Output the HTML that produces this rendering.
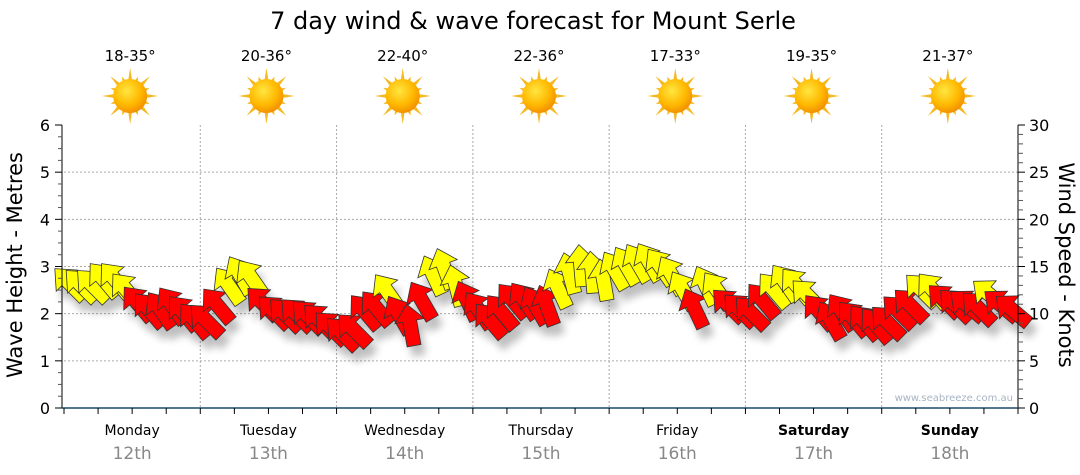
<!DOCTYPE html>
<html><head><meta charset="utf-8">
<style>
body{margin:0;background:#fff;}
svg{display:block;font-family:"DejaVu Sans","Liberation Sans",sans-serif;}
</style></head>
<body>
<svg id="c" width="1080" height="475">
<defs>
<radialGradient id="sg" cx="0.4" cy="0.35" r="0.7">
<stop offset="0" stop-color="#ffe640"/><stop offset="0.6" stop-color="#ffb800"/><stop offset="1" stop-color="#f08a00"/>
</radialGradient>
<filter id="sh" x="-50%" y="-50%" width="200%" height="200%"><feGaussianBlur stdDeviation="4"/></filter>
</defs>
<text x="533" y="29" font-size="24" text-anchor="middle" fill="#000">7 day wind &amp; wave forecast for Mount Serle</text>
<g id="grid"></g>
<g id="shadows" filter="url(#sh)" opacity="0.25"></g>
<g id="arrows"></g>
<g id="axes"></g>
<text transform="translate(22,265) rotate(-90)" font-size="21" text-anchor="middle">Wave Height - Metres</text>
<text transform="translate(1059,265) rotate(90)" font-size="21" text-anchor="middle">Wind Speed - Knots</text>
<text x="1013" y="401" font-size="10" fill="#a8b4c4" text-anchor="end">www.seabreeze.com.au</text>
</svg>
<script>
const days=["Monday","Tuesday","Wednesday","Thursday","Friday","Saturday","Sunday"];
const dates=["12th","13th","14th","15th","16th","17th","18th"];
const temps=["18-35°","20-36°","22-40°","22-36°","17-33°","19-35°","21-37°"];
const leftTicks=[0,1,2,3,4,5,6];
const rightTicks=[0,5,10,15,20,25,30];
const windKnots=[13.2,13.0,13.0,13.6,13.6,12.5,11.1,10.4,10.4,10.9,10.1,9.3,9.3,10.9,13.0,14.1,13.8,11.1,10.2,9.9,9.9,9.7,9.3,8.5,7.9,8.3,10.2,10.6,12.3,9.9,8.8,11.4,14.1,14.8,13.0,11.4,10.4,9.3,10.2,11.4,11.4,10.9,10.9,12.7,14.3,15.1,14.4,13.6,14.6,15.1,15.4,15.5,15.0,14.1,12.5,10.6,13.0,12.5,10.9,10.4,10.1,11.4,12.5,13.3,13.0,11.9,10.2,9.3,10.2,9.5,9.1,8.8,9.1,10.2,10.9,12.5,12.5,11.4,10.9,10.9,10.6,12.0,10.9,10.4];
const windDir=[-45,-45,-45,-40,-40,-40,-40,-40,-35,-35,-40,-40,-45,-40,-35,-30,-35,-45,-45,-45,-45,-45,-45,-45,-45,-45,-40,-40,-35,-30,-10,-30,-25,-20,-15,-25,-35,-40,-40,-40,-35,-30,-20,-25,-15,-5,-5,-10,-30,-30,-30,-30,-35,-30,-30,-25,-25,-35,-45,-45,-45,-40,-40,-35,-40,-45,-40,-30,-35,-40,-40,-40,-45,-45,-45,-45,-40,-45,-45,-50,-45,-50,-50,-50];
const X0=64,X1=1018,Y0=408,Y1=125;
const ns="http://www.w3.org/2000/svg";
function mk(t,a,p){const e=document.createElementNS(ns,t);for(const k in a)e.setAttribute(k,a[k]);(p||document.getElementById('c')).appendChild(e);return e;}
const yM=m=>Y0-(m/6)*(Y0-Y1);
const yK=k=>Y0-(k/30)*(Y0-Y1);
const dayW=(X1-X0)/7;
const grid=document.getElementById('grid'),axes=document.getElementById('axes');
for(let i=1;i<6;i++){const l=mk('line',{x1:X0,x2:X1,y1:yM(i),y2:yM(i),stroke:'#aaa','stroke-dasharray':'2,2'},grid);
}
for(let d=1;d<7;d++){const x=X0+d*dayW;const l=mk('line',{x1:x,x2:x,y1:Y1,y2:Y0,stroke:'#aaa','stroke-dasharray':'2,2'},grid);
}
mk('line',{x1:62,x2:62,y1:Y1,y2:Y0,stroke:'#000'},axes);
mk('line',{x1:X1,x2:X1,y1:Y1,y2:Y0,stroke:'#000'},axes);
mk('line',{x1:X0-2,x2:X1,y1:Y0,y2:Y0,stroke:'#1a4a6a','stroke-width':1.5},axes);
for(let i=0;i<=24;i++){const y=yM(i/4);mk('line',{x1:i%4?58:55,x2:62,y1:y,y2:y,stroke:i%4?'#555':'#000'},axes);}
for(let i=0;i<=30;i++){const y=yK(i);mk('line',{x1:X1,x2:X1+(i%5?5:7),y1:y,y2:y,stroke:i%5?'#555':'#000'},axes);}
leftTicks.forEach(v=>{const t=mk('text',{x:50,y:yM(v)+6,'font-size':16,'text-anchor':'end'},axes);t.textContent=v;
});
rightTicks.forEach(v=>{const t=mk('text',{x:1029,y:yK(v)+6,'font-size':16},axes);t.textContent=v;
});
for(let i=0;i<=28;i++){const x=X0+i*dayW/4;mk('line',{x1:x,x2:x,y1:Y0,y2:Y0+6,stroke:'#000'},axes);}
days.forEach((d,i)=>{const cx=X0+(i+0.5)*dayW;
const t=mk('text',{x:cx,y:435,'font-size':14,'text-anchor':'middle','font-weight':i>=5?'bold':'normal'});t.textContent=d;

const t2=mk('text',{x:cx,y:459,'font-size':17,'text-anchor':'middle',fill:'#888'});t2.textContent=dates[i];

const t3=mk('text',{x:cx-2,y:61,'font-size':15,'text-anchor':'middle'});t3.textContent=temps[i];

const g=mk('g',{transform:`translate(${cx-2},96)`});

for(let r=0;r<16;r++){const a=r*Math.PI/8,L=r%2?21:28;
mk('polygon',{points:`${Math.cos(a-0.14)*15},${Math.sin(a-0.14)*15} ${Math.cos(a)*L},${Math.sin(a)*L} ${Math.cos(a+0.14)*15},${Math.sin(a+0.14)*15}`,fill:'#f5b820'},g);}
mk('circle',{r:17,fill:'url(#sg)'},g);
});
const shp="0,-21 15,-4 7,-4 7,21 -7,21 -7,-4 -15,-4";
const n=windKnots.length,step=(X1-X0)/n;
const shadows=document.getElementById('shadows'),arr=document.getElementById('arrows');
windKnots.forEach((k,i)=>{const x=X0+(i+0.5)*step,y=yK(k);
mk('polygon',{points:shp,transform:`translate(${x+5},${y+10}) rotate(${windDir[i]})`,fill:'#000'},shadows);
const p=mk('polygon',{points:shp,transform:`translate(${x},${y}) rotate(${windDir[i]})`,fill:k>=11.7?'#ffff00':'#ff0000',stroke:'#333','stroke-width':0.8},arr);


});
</script>
</body></html>
